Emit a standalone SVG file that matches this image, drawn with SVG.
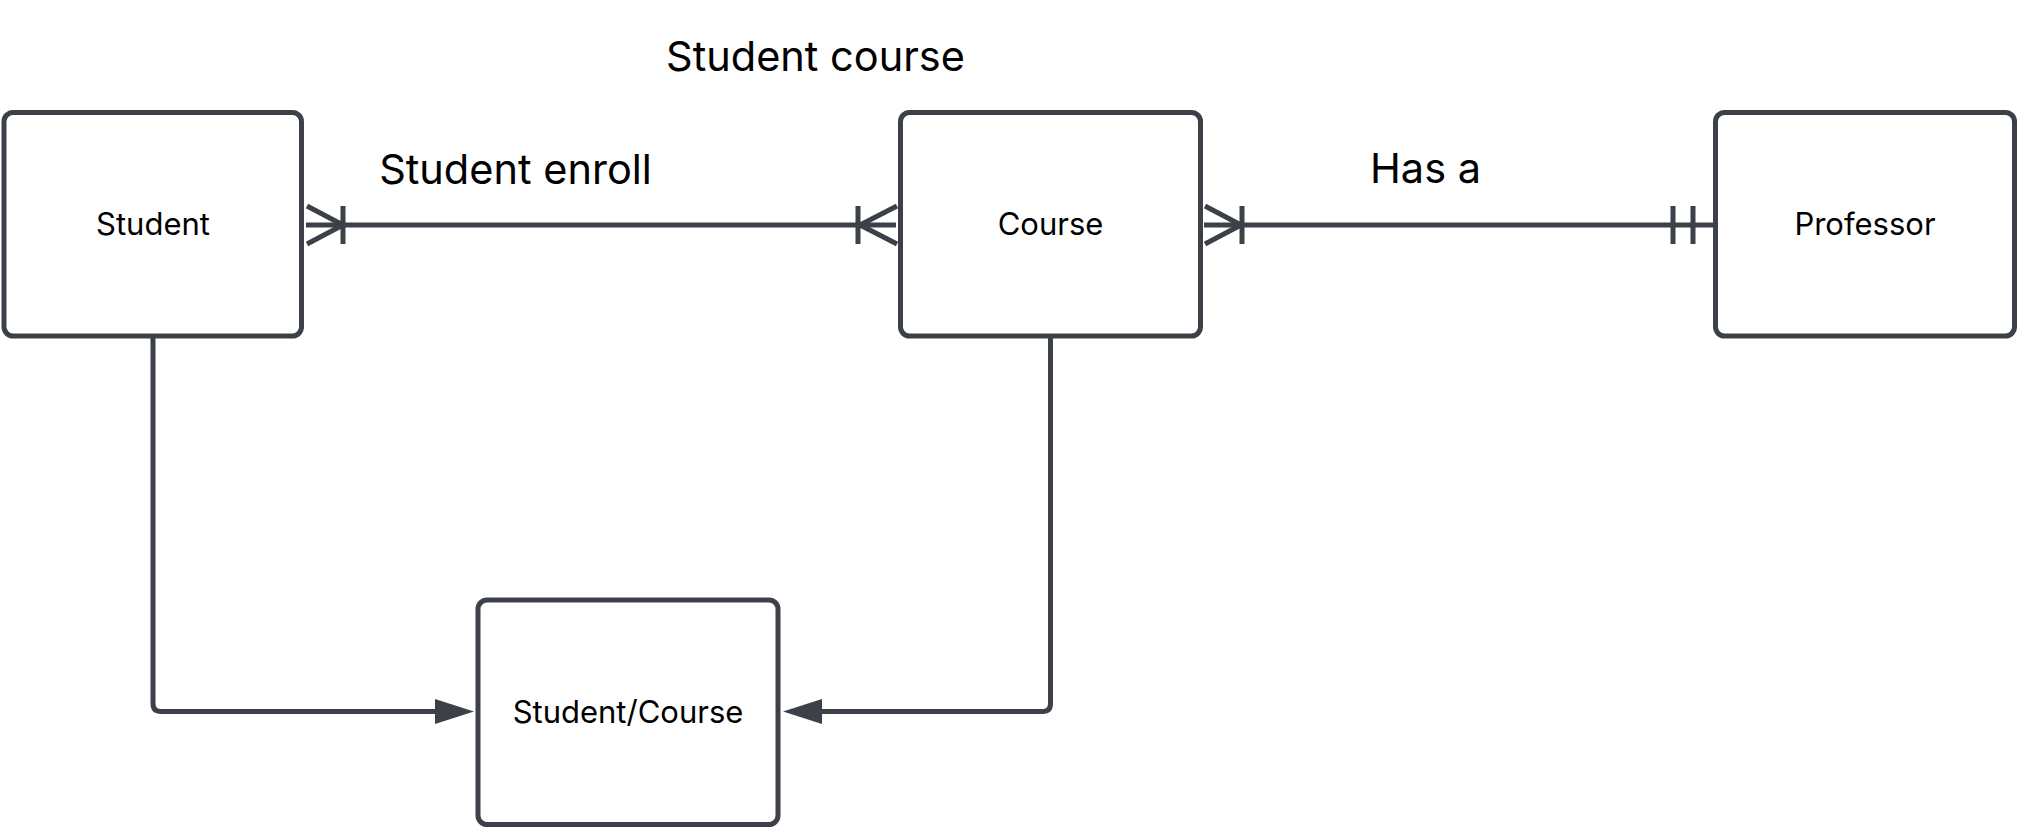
<svg xmlns="http://www.w3.org/2000/svg" width="2018" height="827" viewBox="0 0 2018 827">
<style>
.box{fill:#ffffff;stroke:#3b4049;stroke-width:5}
.lbl{font-family:Inter,"Liberation Sans",sans-serif;font-size:31px;fill:#000;text-anchor:middle;dominant-baseline:central}
.elbl{font-family:Inter,"Liberation Sans",sans-serif;font-size:41.5px;fill:#000;text-anchor:middle}
.con{fill:none;stroke:#3b4049;stroke-width:5}
.head{fill:#3b4049;stroke:none}
</style>
<rect width="2018" height="827" fill="#ffffff"/>
<g id="connectors">
  <path class="con" d="M306 225 H896"/>
  <path class="con" d="M307 206 L343 225 L307 244 M343 206 V244"/>
  <path class="con" d="M897 206 L860 225 L897 244 M858 206 V244"/>
  <path class="con" d="M1204 225 H1713"/>
  <path class="con" d="M1205 206 L1241 225 L1205 244 M1242 206 V244"/>
  <path class="con" d="M1673 206 V244 M1693 206 V244"/>
  <path class="con" d="M153 337 V703.5 Q153 711.5 161 711.5 H438"/>
  <polygon class="head" points="435,699 474,711.5 435,724"/>
  <path class="con" d="M1050.5 337 V703.5 Q1050.5 711.5 1042.5 711.5 H819"/>
  <polygon class="head" points="822,699 783,711.5 822,724"/>
  <text class="elbl" x="815.5" y="71">Student course</text>
  <text class="elbl" x="515.5" y="184">Student enroll</text>
  <text class="elbl" x="1425.5" y="183">Has a</text>
</g>
<g id="node-student">
  <rect class="box" x="4" y="112.5" width="297.5" height="223.5" rx="9"/>
  <text class="lbl" x="153" y="223">Student</text>
</g>
<g id="node-course">
  <rect class="box" x="900.5" y="112.5" width="300" height="223.5" rx="9"/>
  <text class="lbl" x="1050.5" y="223">Course</text>
</g>
<g id="node-professor">
  <rect class="box" x="1715.5" y="112.5" width="299" height="223.5" rx="9"/>
  <text class="lbl" x="1865" y="223">Professor</text>
</g>
<g id="node-student-course">
  <rect class="box" x="478" y="600" width="300" height="224.5" rx="9"/>
  <text class="lbl" x="628" y="711">Student/Course</text>
</g>
</svg>
